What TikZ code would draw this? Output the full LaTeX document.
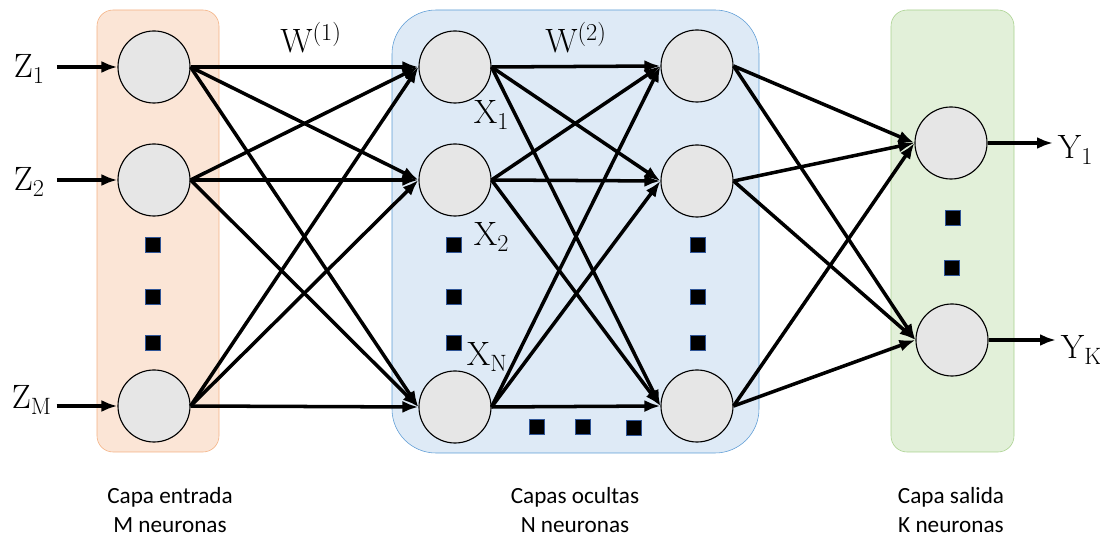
\documentclass[tikz,border=0pt]{standalone}
\usepackage{fontspec}
\setsansfont{Carlito}
\definecolor{inFill}{HTML}{FBE5D6}
\definecolor{inLine}{HTML}{F4B183}
\definecolor{hidFill}{HTML}{DEEAF6}
\definecolor{hidLine}{HTML}{5B9BD5}
\definecolor{outFill}{HTML}{E2F0D9}
\definecolor{outLine}{HTML}{A9D18E}
\definecolor{cellgray}{HTML}{E6E6E6}
\definecolor{dotblue}{HTML}{2F5597}
\usetikzlibrary{positioning,arrows.meta}

\begin{document}
\begin{tikzpicture}[x=0.025cm,y=-0.025cm,
      every node/.style={font=\fontsize{24}{28}\selectfont},
      neuron/.style={circle,draw=black,line width=0.8pt,fill=cellgray,minimum size=1.8cm,inner sep=0pt},
      dotbox/.style={rectangle,draw=dotblue,fill=black,line width=0.6pt,minimum size=0.37cm,inner sep=0pt},
      link/.style={-{Latex[length=4mm,width=3mm]},line width=2.5pt},
      caption/.style={font=\sffamily\fontsize{16.5}{20}\selectfont,align=center}]
    \useasboundingbox (0,0) rectangle (1100,536);
    % layer boxes
    \draw[fill=inFill,draw=inLine,rounded corners=0.4cm] (97,10) rectangle (219,452);
    \draw[fill=hidFill,draw=hidLine,rounded corners=1.1cm] (392,10) rectangle (759,453);
    \draw[fill=outFill,draw=outLine,rounded corners=0.4cm] (891,10) rectangle (1014,452);
    % neurons
    \node[neuron] (in1) at (154,67) {};
    \node[neuron] (in2) at (154,180) {};
    \node[neuron] (inM) at (154,406) {};
    \node[neuron] (h11) at (455,67) {};
    \node[neuron] (h12) at (455,180) {};
    \node[neuron] (h1N) at (455,407) {};
    \node[neuron] (h21) at (697,66) {};
    \node[neuron] (h22) at (697,181) {};
    \node[neuron] (h2N) at (697,406) {};
    \node[neuron] (out1) at (951,143) {};
    \node[neuron] (outK) at (952,340) {};
    % ellipsis squares
    \node[dotbox] (ind1) at (153,245) {};
    \node[dotbox] (ind2) at (153,297) {};
    \node[dotbox] (ind3) at (153,343) {};
    \node[dotbox] (hd1) at (454,245) {};
    \node[dotbox] (hd2) at (454,297) {};
    \node[dotbox] (hd3) at (454,343) {};
    \node[dotbox] (hd4) at (698,245) {};
    \node[dotbox] (hd5) at (698,297) {};
    \node[dotbox] (hd6) at (698,343) {};
    \node[dotbox] (hd7) at (537,427) {};
    \node[dotbox] (hd8) at (583,427) {};
    \node[dotbox] (hd9) at (634,428) {};
    \node[dotbox] (outd1) at (953,218) {};
    \node[dotbox] (outd2) at (952,268) {};
    % labels
    \node[anchor=base west] (z1) at (9,78) {$\mathrm{Z}_1$};
    \node[anchor=base west] (z2) at (9,191) {$\mathrm{Z}_2$};
    \node[anchor=base west] (zM) at (7,409) {$\mathrm{Z}_{\mathrm{M}}$};
    \node[anchor=base west] (x1) at (469,124) {$\mathrm{X}_1$};
    \node[anchor=base west] (x2) at (469,246) {$\mathrm{X}_2$};
    \node[anchor=base west] (xN) at (462,366) {$\mathrm{X}_{\mathrm{N}}$};
    \node[anchor=base] (w1) at (311,53) {$\mathrm{W}^{(1)}$};
    \node[anchor=base] (w2) at (576,53) {$\mathrm{W}^{(2)}$};
    \node[anchor=base west] (y1) at (1053,159) {$\mathrm{Y}_1$};
    \node[anchor=base west] (yK) at (1056,359) {$\mathrm{Y}_{\mathrm{K}}$};
    % connections
    \draw[link,shorten <=5pt] (z1.east |- in1) -- (in1.west);
    \draw[link,shorten <=5pt] (z2.east |- in2) -- (in2.west);
    \draw[link] (zM.east |- inM) -- (inM.west);
    \foreach \src in {in1,in2,inM}
      \foreach \dst in {h11,h12,h1N}
        \draw[link] (\src.east) -- (\dst.west);
    \foreach \src in {h11,h12,h1N}
      \foreach \dst in {h21,h22,h2N}
        \draw[link] (\src.east) -- (\dst.west);
    \foreach \src in {h21,h22,h2N}
      \foreach \dst in {out1,outK}
        \draw[link] (\src.east) -- (\dst.west);
    \draw[link] (out1.east) -- (y1.west |- out1);
    \draw[link] (outK.east) -- (yK.west |- outK);
    % captions
    \node[caption] (capin) at (170,510) {Capa entrada\\M neuronas};
    \node[caption] (caphid) at (575,510) {Capas ocultas\\N neuronas};
    \node[caption] (capout) at (951,510) {Capa salida\\K neuronas};
  \end{tikzpicture}
\end{document}
